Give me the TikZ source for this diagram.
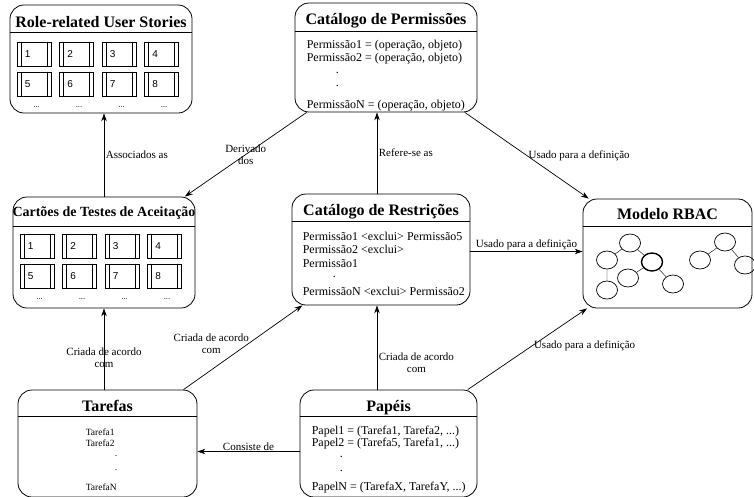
\documentclass[tikz,border=0pt]{standalone}
\usepackage{fontspec}
\setmainfont{Liberation Serif}
\setsansfont{Liberation Sans}
\usetikzlibrary{positioning, arrows.meta, shapes.geometric}

\begin{document}
\begin{tikzpicture}[x=1pt, y=-1pt, >={Stealth[length=8pt, width=5.5pt]},
    box/.style={draw, rectangle, rounded corners=14pt, line width=0.8pt, inner sep=0pt},
    title/.style={font=\fontsize{16}{18}\selectfont\bfseries, inner sep=0pt, text height=11pt, text depth=3pt},
    body/.style={align=left, inner sep=0pt, font=\fontsize{12}{13}\selectfont},
    lbl/.style={font=\fontsize{11}{12}\selectfont, align=center, inner sep=1.5pt},
    cell/.style={draw, rectangle, minimum width=34pt, minimum height=24pt, inner sep=0pt, line width=0.6pt},
    num/.style={font=\sffamily\fontsize{10}{12}\selectfont, inner sep=0pt},
    vtx/.style={draw, ellipse, minimum width=21pt, minimum height=18pt, inner sep=0pt, line width=0.7pt},
    arr/.style={->, line width=0.7pt}]

    \useasboundingbox (0,0) rectangle (754,496);

    % Role-related User Stories
    \node[box, minimum width=182pt, minimum height=108pt] (stories) at (101,59) {};
    \node[title] (storiesT) at ([yshift=-19pt]stories.north) {Role-related User Stories};
    \draw ([yshift=-28pt]stories.north west) -- ([yshift=-28pt]stories.north east);

    % Cartoes de Testes de Aceitacao
    \node[box, minimum width=182pt, minimum height=111pt] (cartoes) at (104,252.5) {};
    \node[title, font=\fontsize{14}{16}\selectfont\bfseries] (cartoesT) at ([yshift=-16pt]cartoes.north) {Cartões de Testes de Aceitação};
    \draw ([yshift=-30pt]cartoes.north west) -- ([yshift=-30pt]cartoes.north east);

    % story / test cards
    \foreach \b in {stories, cartoes} {
        \foreach \i in {1,...,8} {
            \pgfmathsetmacro{\dx}{7+42.5*mod(\i-1,4)}
            \pgfmathsetmacro{\dy}{37+30*int((\i-1)/4)}
            \node[cell, anchor=north west] (\b-\i) at ([xshift=\dx, yshift=-\dy]\b.north west) {};
            \draw ([xshift=4.5pt]\b-\i.north west) -- ([xshift=4.5pt]\b-\i.south west)
                  ([xshift=-4.5pt]\b-\i.north east) -- ([xshift=-4.5pt]\b-\i.south east);
            \node[num, anchor=west] (\b-\i-n) at ([xshift=8pt]\b-\i.west) {\i};
        }
        \foreach \j in {0,...,3}
            \node[num, font=\sffamily\fontsize{8}{10}\selectfont] (\b-d\j) at ([xshift={27+42.5*\j}, yshift=-102pt]\b.north west) {...};
    }

    % Catalogo de Permissoes
    \node[box, minimum width=182pt, minimum height=109pt] (perm) at (386,57.5) {};
    \node[title] (permT) at ([yshift=-18pt]perm.north) {Catálogo de Permissões};
    \draw ([yshift=-29pt]perm.north west) -- ([yshift=-29pt]perm.north east);
    \node[body, anchor=north west] (permL) at ([xshift=12pt, yshift=-37pt]perm.north west)
        {Permissão1 = (operação, objeto)\\ Permissão2 = (operação, objeto)\\[-1pt]
         \hspace*{29pt}.\\[0pt] \hspace*{29pt}.\\[9pt] PermissãoN = (operação, objeto)};

    % Catalogo de Restricoes
    \node[box, minimum width=178pt, minimum height=111pt] (restr) at (381,249.5) {};
    \node[title] (restrT) at ([yshift=-18pt]restr.north) {Catálogo de Restrições};
    \draw ([yshift=-28pt]restr.north west) -- ([yshift=-28pt]restr.north east);
    \node[body, font=\fontsize{12}{13.5}\selectfont, anchor=north west] (restrL) at ([xshift=11pt, yshift=-38pt]restr.north west)
        {Permissão1 <exclui> Permissão5\\ Permissão2 <exclui>\\ Permissão1\\[-3pt]
         \hspace*{30pt}.\\[4pt] PermissãoN <exclui> Permissão2};

    % Modelo RBAC
    \node[box, minimum width=169pt, minimum height=109pt] (rbac) at (667.5,253.5) {};
    \node[title] (rbacT) at ([yshift=-17pt]rbac.north) {Modelo RBAC};
    \draw ([yshift=-28pt]rbac.north west) -- ([yshift=-28pt]rbac.north east);
    \node[vtx] (r1) at (630,243) {};
    \node[vtx] (r2) at (607,260) {};
    \node[vtx, line width=1.4pt] (r3) at (652,262) {};
    \node[vtx] (r4) at (628,278) {};
    \node[vtx] (r5) at (607,290) {};
    \node[vtx] (r6) at (673,284) {};
    \node[vtx] (r7) at (725,242) {};
    \node[vtx] (r8) at (700,260) {};
    \node[vtx] (r9) at (745,265) {};
    \draw (r1) -- (r2) (r1) -- (r3) (r2) -- (r5) (r3) -- (r4) (r3) -- (r6)
          (r7) -- (r8) (r7) -- (r9);

    % Tarefas
    \node[box, minimum width=179pt, minimum height=107pt] (tarefas) at (107.5,443.5) {};
    \node[title] (tarefasT) at ([yshift=-18pt]tarefas.north) {Tarefas};
    \draw ([yshift=-27pt]tarefas.north west) -- ([yshift=-27pt]tarefas.north east);
    \node[body, font=\fontsize{9.5}{11}\selectfont, anchor=north west] (tarefasL) at ([xshift=68pt, yshift=-39pt]tarefas.north west)
        {Tarefa1\\ Tarefa2\\[-1pt] \hspace*{29pt}.\\[3pt] \hspace*{29pt}.\\[9pt] TarefaN};

    % Papeis
    \node[box, minimum width=177pt, minimum height=107pt] (papeis) at (388.5,443.5) {};
    \node[title] (papeisT) at ([yshift=-18pt]papeis.north) {Papéis};
    \draw ([yshift=-27pt]papeis.north west) -- ([yshift=-27pt]papeis.north east);
    \node[body, font=\fontsize{12}{11}\selectfont, anchor=north west] (papeisL) at ([xshift=12pt, yshift=-36pt]papeis.north west)
        {Papel1 = (Tarefa1, Tarefa2, ...)\\ Papel2 = (Tarefa5, Tarefa1, ...)\\[0pt]
         \hspace*{28pt}.\\[3pt] \hspace*{28pt}.\\[8pt] PapelN = (TarefaX, TarefaY, ...)};

    % connectors
    \draw[arr] (cartoes.north) -- (cartoes.north |- stories.south) node[lbl, midway, right] {Associados as};
    \draw[arr] (perm) -- (cartoes) node[lbl, midway] {Derivado\\dos};
    \draw[arr] ([xshift=-4pt]restr.north) -- ([xshift=-4pt]restr.north |- perm.south) node[lbl, midway, right] {Refere-se as};
    \draw[arr] (perm) -- (rbac) node[lbl, pos=0.5, right] {Usado para a definição};
    \draw[arr] ([yshift=-2pt]restr.east) -- ([yshift=-2pt]restr.east -| rbac.west) node[lbl, midway, above] {Usado para a definição};
    \draw[arr] (tarefas.north -| cartoes.north) -- (cartoes.south) node[lbl, pos=0.39] {Criada de acordo\\com};
    \draw[arr] (tarefas) -- (restr) node[lbl, pos=0.54, left, xshift=3pt] {Criada de acordo\\com};
    \draw[arr] ([xshift=-4pt]restr.south |- papeis.north) -- ([xshift=-4pt]restr.south) node[lbl, pos=0.32, right] {Criada de acordo\\com};
    \draw[arr] (papeis) -- (rbac) node[lbl, pos=0.54, right] {Usado para a definição};
    \draw[arr] ([yshift=-8pt]papeis.west) -- ([yshift=-8pt]tarefas.east) node[lbl, midway, above, inner sep=0.5pt] {Consiste de};

\end{tikzpicture}
\end{document}
